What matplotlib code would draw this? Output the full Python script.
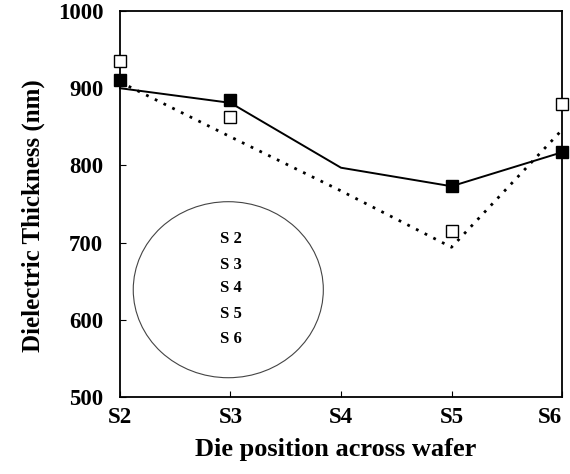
import matplotlib
matplotlib.use("Agg")
import matplotlib.pyplot as plt
from matplotlib.patches import Ellipse

# die positions across the wafer
positions = ["S2", "S3", "S4", "S5", "S6"]

# solid trend line and filled squares
solid_line = [900, 881, 797, 773, 817]
filled_pos = ["S2", "S3", "S5", "S6"]
filled_vals = [911, 885, 773, 817]

# dotted trend line and open squares
dotted_line = [908, 837, 767, 694, 846]
open_pos = ["S2", "S3", "S5", "S6"]
open_vals = [935, 863, 715, 880]

# die labels inside the wafer sketch
wafer_labels = ["S 2", "S 3", "S 4", "S 5", "S 6"]
wafer_label_y = [705, 671, 641, 608, 575]

plt.rcParams["font.family"] = ["Liberation Serif", "DejaVu Serif"]
plt.rcParams["font.weight"] = "bold"

fig = plt.figure(figsize=(5.7, 4.74), dpi=100)
ax = fig.add_axes([0.2105, 0.1624, 0.7755, 0.8144])

xi = {p: i for i, p in enumerate(positions)}
x = list(range(len(positions)))

ax.plot(x, solid_line, color="black", lw=1.4, zorder=2, clip_on=False)
ax.plot(x, dotted_line, color="black", lw=2.0, linestyle=(0, (1, 2.5)),
        zorder=2, clip_on=False)
ax.plot([xi[p] for p in filled_pos], filled_vals, linestyle="none", marker="s",
        ms=8.5, mfc="black", mec="black", zorder=4, clip_on=False)
ax.plot([xi[p] for p in open_pos], open_vals, linestyle="none", marker="s",
        ms=8.5, mfc="white", mec="black", mew=1.0, zorder=4, clip_on=False)

# wafer sketch
ax.add_patch(Ellipse((0.98, 639), 1.72, 228, fill=False, edgecolor="#444444",
                     lw=0.8, zorder=1))
for lab, yy in zip(wafer_labels, wafer_label_y):
    ax.text(1.0, yy, lab, ha="center", va="center", fontsize=12,
            fontweight="bold")

ax.set_xlim(0, 4)
ax.set_ylim(500, 1000)
ax.set_xticks(x)
ax.set_xticklabels(positions)
ax.set_yticks(range(500, 1001, 100))

ax.tick_params(axis="both", direction="in", length=4, width=0.8,
               labelsize=16.5)
ax.tick_params(axis="y", pad=12)
ax.tick_params(axis="x", pad=7)
for lab in ax.get_xticklabels() + ax.get_yticklabels():
    lab.set_fontweight("bold")
ax.get_xticklabels()[-1].set_horizontalalignment("right")

for s in ax.spines.values():
    s.set_linewidth(1.3)

ax.set_xlabel("Die position across wafer", fontsize=19, fontweight="bold")
ax.set_ylabel("Dielectric Thickness (nm)", fontsize=18, fontweight="bold")
ax.xaxis.set_label_coords(0.487, -0.105)
ax.yaxis.set_label_coords(-0.17, 0.47)

fig.savefig("out.png", dpi=100)
